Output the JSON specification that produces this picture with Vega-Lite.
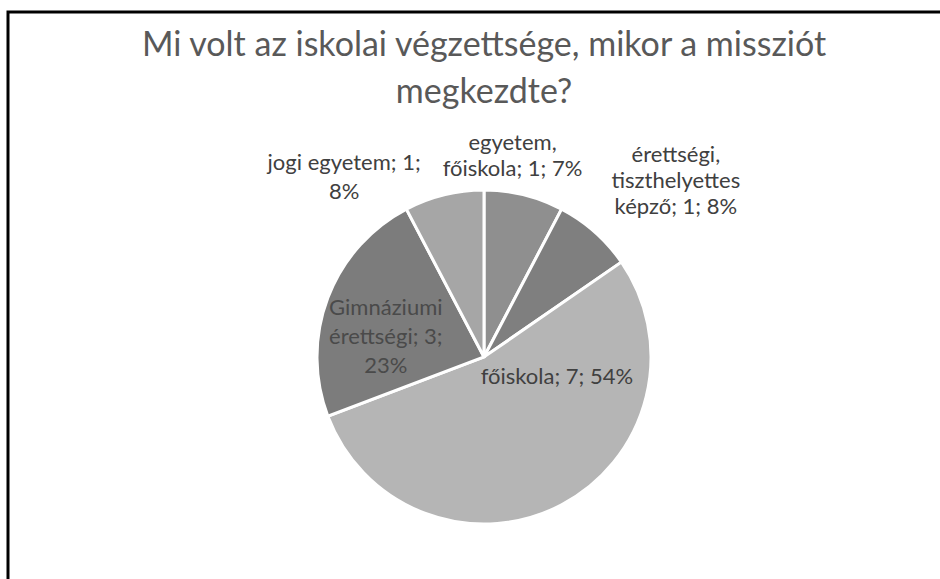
{
  "$schema": "https://vega.github.io/schema/vega-lite/v6.json",
  "width": 952,
  "height": 690,
  "autosize": {"type": "none"},
  "padding": {"left": 8, "top": 12, "right": 0, "bottom": 0},
  "background": "white",
  "view": {"stroke": "black", "strokeWidth": 3, "fill": "white"},
  "title": {
    "text": ["Mi volt az iskolai végzettsége, mikor a missziót", "megkezdte?"],
    "frame": "group",
    "anchor": "middle",
    "orient": "top",
    "offset": -98,
    "baseline": "top",
    "font": "Lato",
    "fontSize": 34,
    "fontWeight": "normal",
    "color": "#595959",
    "lineHeight": 47
  },
  "data": {
    "values": [
      {"k": "egyetem, főiskola", "v": 1, "o": 1, "label": "egyetem,\nfőiskola; 1; 7%"},
      {"k": "érettségi, tiszthelyettes képző", "v": 1, "o": 2, "label": "érettségi,\ntiszthelyettes\nképző; 1; 8%"},
      {"k": "főiskola", "v": 7, "o": 3, "label": "főiskola; 7; 54%"},
      {"k": "Gimnáziumi érettségi", "v": 3, "o": 4, "label": "Gimnáziumi\nérettségi; 3;\n23%"},
      {"k": "jogi egyetem", "v": 1, "o": 5, "label": "jogi egyetem; 1;\n8%"}
    ]
  },
  "encoding": {
    "theta": {"field": "v", "type": "quantitative", "stack": true},
    "order": {"field": "o", "type": "quantitative"}
  },
  "layer": [
    {
      "mark": {"type": "arc", "outerRadius": 167, "stroke": "white", "strokeWidth": 3},
      "encoding": {
        "color": {
          "field": "k",
          "type": "nominal",
          "legend": null,
          "scale": {
            "domain": ["egyetem, főiskola", "érettségi, tiszthelyettes képző", "főiskola", "Gimnáziumi érettségi", "jogi egyetem"],
            "range": ["#8f8f8f", "#7f7f7f", "#b5b5b5", "#7c7c7c", "#a6a6a6"]
          }
        }
      }
    },
    {
      "mark": {"type": "text", "radius": 207, "dx": -21, "dy": -13, "font": "Lato", "fontSize": 22, "color": "#404040", "lineBreak": "\n", "lineHeight": 26, "align": "center", "baseline": "middle"},
      "encoding": {"text": {"condition": {"test": "datum.k === 'egyetem, főiskola'", "field": "label"}, "value": ""}}
    },
    {
      "mark": {"type": "text", "radius": 235, "dx": 36, "dy": -26, "font": "Lato", "fontSize": 22, "color": "#404040", "lineBreak": "\n", "lineHeight": 26, "align": "center", "baseline": "middle"},
      "encoding": {"text": {"condition": {"test": "datum.k === 'érettségi, tiszthelyettes képző'", "field": "label"}, "value": ""}}
    },
    {
      "mark": {"type": "text", "radius": 60, "dx": 45, "dy": -33, "font": "Lato", "fontSize": 22, "color": "#404040", "lineBreak": "\n", "lineHeight": 26, "align": "center", "baseline": "middle"},
      "encoding": {"text": {"condition": {"test": "datum.k === 'főiskola'", "field": "label"}, "value": ""}}
    },
    {
      "mark": {"type": "text", "radius": 105, "dy": -12, "font": "Lato", "fontSize": 22, "color": "#4a4a4a", "lineBreak": "\n", "lineHeight": 29, "align": "center", "baseline": "middle"},
      "encoding": {"text": {"condition": {"test": "datum.k === 'Gimnáziumi érettségi'", "field": "label"}, "value": ""}}
    },
    {
      "mark": {"type": "text", "radius": 200, "dx": -92, "dy": 0, "font": "Lato", "fontSize": 22, "color": "#404040", "lineBreak": "\n", "lineHeight": 29, "align": "center", "baseline": "middle"},
      "encoding": {"text": {"condition": {"test": "datum.k === 'jogi egyetem'", "field": "label"}, "value": ""}}
    }
  ]
}
